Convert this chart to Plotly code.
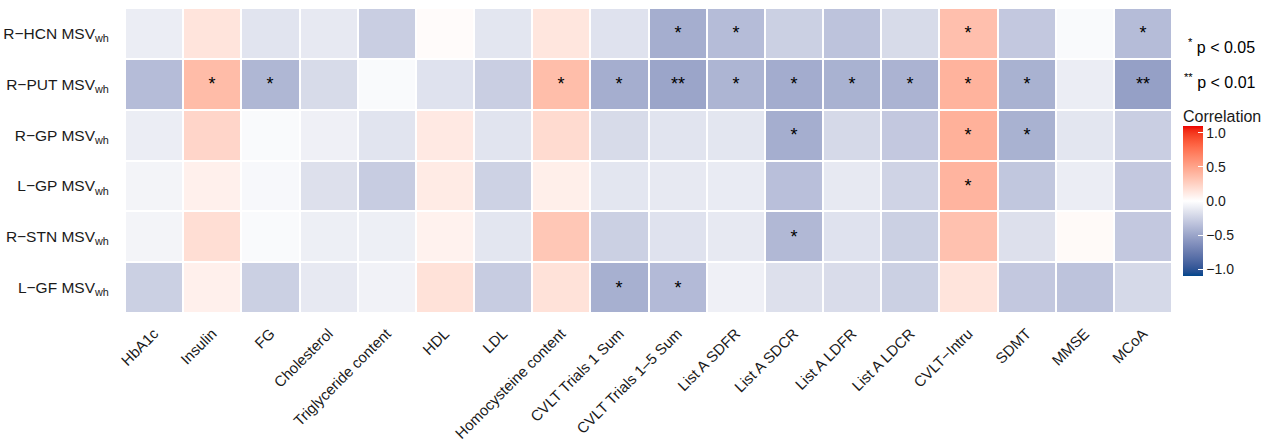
import numpy as np
import plotly.graph_objects as go

columns = ["HbA1c", "Insulin", "FG", "Cholesterol", "Triglyceride content", "HDL", "LDL",
           "Homocysteine content", "CVLT Trials 1 Sum", "CVLT Trials 1\u20135 Sum", "List A SDFR",
           "List A SDCR", "List A LDFR", "List A LDCR", "CVLT\u2212Intru", "SDMT", "MMSE", "MCoA"]
rows = ["R\u2212HCN MSV<sub>wh</sub>", "R\u2212PUT MSV<sub>wh</sub>", "R\u2212GP MSV<sub>wh</sub>",
        "L\u2212GP MSV<sub>wh</sub>", "R\u2212STN MSV<sub>wh</sub>", "L\u2212GF MSV<sub>wh</sub>"]

r_hcn = [-0.10, 0.15, -0.15, -0.12, -0.27, 0.02, -0.14, 0.14, -0.16, -0.45, -0.37, -0.26, -0.33, -0.20, 0.35, -0.30, -0.03, -0.37]
r_put = [-0.37, 0.37, -0.40, -0.20, -0.03, -0.16, -0.27, 0.36, -0.45, -0.50, -0.41, -0.46, -0.43, -0.42, 0.42, -0.43, -0.10, -0.53]
r_gp = [-0.10, 0.23, -0.03, -0.08, -0.15, 0.12, -0.15, 0.20, -0.20, -0.15, -0.14, -0.45, -0.21, -0.30, 0.43, -0.43, -0.14, -0.27]
l_gp = [-0.06, 0.08, -0.04, -0.17, -0.28, 0.11, -0.25, 0.09, -0.14, -0.12, -0.11, -0.35, -0.12, -0.24, 0.41, -0.31, -0.10, -0.30]
r_stn = [-0.06, 0.18, -0.03, -0.09, -0.09, 0.07, -0.14, 0.31, -0.26, -0.16, -0.12, -0.39, -0.16, -0.26, 0.34, -0.17, 0.03, -0.30]
l_gf = [-0.26, 0.08, -0.26, -0.12, -0.07, 0.16, -0.28, 0.16, -0.44, -0.38, -0.08, -0.17, -0.19, -0.26, 0.15, -0.30, -0.33, -0.21]

sig_r_hcn = ["", "", "", "", "", "", "", "", "", "*", "*", "", "", "", "*", "", "", "*"]
sig_r_put = ["", "*", "*", "", "", "", "", "*", "*", "**", "*", "*", "*", "*", "*", "*", "", "**"]
sig_r_gp = ["", "", "", "", "", "", "", "", "", "", "", "*", "", "", "*", "*", "", ""]
sig_l_gp = ["", "", "", "", "", "", "", "", "", "", "", "", "", "", "*", "", "", ""]
sig_r_stn = ["", "", "", "", "", "", "", "", "", "", "", "*", "", "", "", "", "", ""]
sig_l_gf = ["", "", "", "", "", "", "", "", "*", "*", "", "", "", "", "", "", "", ""]

z = [r_hcn, r_put, r_gp, l_gp, r_stn, l_gf]
stars = [sig_r_hcn, sig_r_put, sig_r_gp, sig_l_gp, sig_r_stn, sig_l_gf]

# ---- Lab-space gradient (like ggplot scale_fill_gradient2) ----
def hex2rgb(h):
    h = h.lstrip("#")
    return np.array([int(h[i:i + 2], 16) / 255 for i in (0, 2, 4)])

def srgb2lin(c):
    return np.where(c <= 0.04045, c / 12.92, ((c + 0.055) / 1.055) ** 2.4)

def lin2srgb(c):
    c = np.clip(c, 0, 1)
    return np.where(c <= 0.0031308, 12.92 * c, 1.055 * c ** (1 / 2.4) - 0.055)

M = np.array([[0.4124, 0.3576, 0.1805], [0.2126, 0.7152, 0.0722], [0.0193, 0.1192, 0.9505]])
Minv = np.linalg.inv(M)
WP = np.array([0.95047, 1.0, 1.08883])

def f(t):
    return np.where(t > (6 / 29) ** 3, np.cbrt(t), t / (3 * (6 / 29) ** 2) + 4 / 29)

def finv(t):
    return np.where(t > 6 / 29, t ** 3, 3 * (6 / 29) ** 2 * (t - 4 / 29))

def rgb2lab(rgb):
    xyz = M @ srgb2lin(rgb) / WP
    fx, fy, fz = f(xyz)
    return np.array([116 * fy - 16, 500 * (fx - fy), 200 * (fy - fz)])

def lab2rgb(lab):
    L, a, b = lab
    fy = (L + 16) / 116
    xyz = np.array([finv(fy + a / 500), finv(fy), finv(fy - b / 200)]) * WP
    return lin2srgb(Minv @ xyz)

low, mid, high = rgb2lab(hex2rgb("#00468B")), rgb2lab(hex2rgb("#FFFFFF")), rgb2lab(hex2rgb("#ED0000"))
cscale = []
n = 40
for i in range(n + 1):
    s = i / n
    if s < 0.5:
        lab = low + (mid - low) * (s / 0.5)
    else:
        lab = mid + (high - mid) * ((s - 0.5) / 0.5)
    r, g, b = (lab2rgb(lab) * 255).round().astype(int)
    cscale.append([s, f"rgb({r},{g},{b})"])

fig = go.Figure(go.Heatmap(
    z=z, x=columns, y=rows, text=stars, texttemplate="%{text}",
    textfont=dict(size=18, color="black", family="Liberation Sans"),
    colorscale=cscale, zmin=-1.1, zmax=1.1, xgap=2, ygap=2,
    colorbar=dict(
        thickness=20, len=150, lenmode="pixels", x=1.0105, xanchor="left",
        y=(313 - 201) / 305, yanchor="middle", outlinewidth=0, xpad=0, ypad=0,
        tickvals=[-1, -0.5, 0, 0.5, 1], ticktext=["\u22121.0", "\u22120.5", "0.0", "0.5", "1.0"],
        ticks="inside", ticklen=5, tickcolor="white", tickwidth=1,
        tickfont=dict(size=14, color="#1a1a1a"),
    ),
    hoverongaps=False,
))

fig.add_annotation(xref="paper", yref="paper", x=1.013, y=(313 - 46) / 305, xanchor="left",
                   yanchor="middle", showarrow=False, text="<sup>*</sup> p < 0.05",
                   font=dict(size=16, color="black"))
fig.add_annotation(xref="paper", yref="paper", x=1.0095, y=(313 - 81) / 305, xanchor="left",
                   yanchor="middle", showarrow=False, text="<sup>**</sup> p < 0.01",
                   font=dict(size=16, color="black"))
fig.add_annotation(xref="paper", yref="paper", x=1.0105, y=(313 - 116) / 305, xanchor="left",
                   yanchor="middle", showarrow=False, text="Correlation", xshift=-2,
                   font=dict(size=16, color="#1a1a1a"))

fig.update_layout(
    width=1266, height=443,
    margin=dict(l=125, r=94, t=8, b=130, autoexpand=False),
    paper_bgcolor="white", plot_bgcolor="white",
    font=dict(family="Liberation Sans, Arial, sans-serif", color="#1a1a1a"),
    xaxis=dict(tickangle=-45, tickfont=dict(size=15, color="#1a1a1a"), showgrid=False,
               zeroline=False, ticks="outside", ticklen=5, tickcolor="rgba(0,0,0,0)",
               automargin=False),
    yaxis=dict(autorange="reversed", tickfont=dict(size=15.5, color="#1a1a1a"), showgrid=False,
               zeroline=False, ticks="outside", ticklen=12, tickcolor="rgba(0,0,0,0)",
               automargin=False),
)

fig.write_html("out.html", config={"displayModeBar": False},
               post_script="document.body.style.margin='0px';")
